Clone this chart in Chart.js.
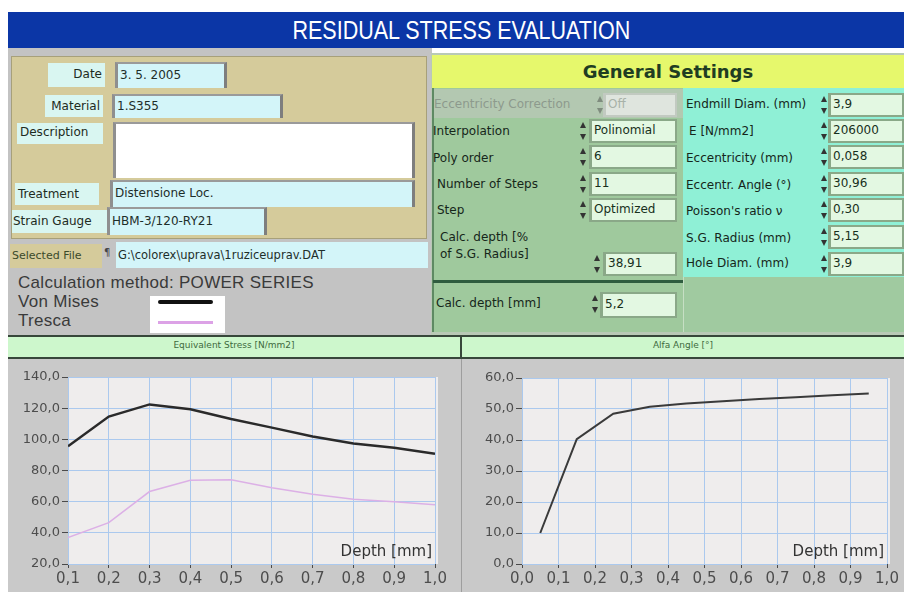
<!DOCTYPE html>
<html>
<head>
<meta charset="utf-8">
<script src="https://cdn.jsdelivr.net/npm/chart.js@4.4.1/dist/chart.umd.min.js"></script>
<style>
  body { margin: 0; width: 904px; height: 592px; background: #fff; overflow: hidden; position: relative; font-family: "DejaVu Sans", Verdana, sans-serif; }
  .a { position: absolute; box-sizing: border-box; }
  .lbl { position: absolute; box-sizing: border-box; background: #d9f6f1; font-size: 12px; color: #1d2b22; line-height: 22px; padding: 0 3px; white-space: nowrap; }
  .val { position: absolute; box-sizing: border-box; background: #d3f5f9; border-left: 3px solid #8f8f8f; border-top: 2px solid #9a9a9a; border-right: 3px solid #7e7e7e; font-size: 12px; color: #1e2e2a; padding-left: 2px; white-space: nowrap; overflow: hidden; }
  .txt { position: absolute; font-size: 12px; color: #16261a; white-space: nowrap; }
  .gv { position: absolute; box-sizing: border-box; height: 24px; background: #e3f8e2; border: 2px solid #8aa888; border-left-width: 3px; font-size: 12px; color: #18301c; line-height: 19px; padding-left: 2px; white-space: nowrap; }
  .sp { position: absolute; width: 7px; height: 22px; }
  .sp:before { content: ""; position: absolute; left: 0; top: 2px; border-left: 3px solid transparent; border-right: 3px solid transparent; border-bottom: 6px solid #333; }
  .sp:after { content: ""; position: absolute; left: 0; bottom: 2px; border-left: 3px solid transparent; border-right: 3px solid transparent; border-top: 6px solid #333; }
</style>
</head>
<body>

<!-- titolo -->
<div class="a" style="left:8px;top:12px;width:896px;height:36px;background:#0b36a6;color:#fff;font-family:'Liberation Sans',sans-serif;font-size:25px;text-align:center;line-height:36px;">
  <span style="display:inline-block;transform:scaleX(0.86);transform-origin:center;margin-left:10px;">RESIDUAL STRESS EVALUATION</span>
</div>

<!-- pannello sinistro -->
<div class="a" style="left:8px;top:48px;width:424px;height:287px;background:#c3c3c3;"></div>
<div class="a" style="left:11px;top:56px;width:416px;height:183px;background:#d5cb9b;border:1px solid #a7a07a;"></div>

<div class="lbl" style="left:48px;top:63px;width:57px;height:24px;text-align:right;">Date</div>
<div class="val" style="left:115px;top:62px;width:112px;height:26px;line-height:22px;">3. 5. 2005</div>
<div class="lbl" style="left:45px;top:95px;width:58px;height:22px;text-align:right;">Material</div>
<div class="val" style="left:112px;top:94px;width:171px;height:24px;line-height:20px;">1.S355</div>
<div class="lbl" style="left:17px;top:123px;width:86px;height:21px;line-height:19px;">Description</div>
<div class="val" style="left:113px;top:122px;width:302px;height:56px;background:#fff;"></div>
<div class="lbl" style="left:15px;top:183px;width:84px;height:22px;">Treatment</div>
<div class="val" style="left:110px;top:180px;width:305px;height:27px;line-height:23px;">Distensione Loc.</div>
<div class="lbl" style="left:12px;top:210px;width:95px;height:23px;padding:0 1px;">Strain Gauge</div>
<div class="val" style="left:107px;top:207px;width:160px;height:28px;line-height:24px;">HBM-3/120-RY21</div>

<div class="a" style="left:10px;top:244px;width:92px;height:24px;background:#d5cb9b;font-size:11px;line-height:24px;color:#3b4a2a;padding-left:2px;white-space:nowrap;">Selected File</div>
<div class="txt" style="left:104px;top:247px;font-size:10px;color:#444;">¶</div>
<div class="val" style="left:116px;top:242px;width:312px;height:26px;border:none;line-height:26px;font-size:11.5px;">G:\colorex\uprava\1ruziceuprav.DAT</div>

<div class="txt" style="left:18px;top:273px;font-family:'Liberation Sans',Arial,sans-serif;font-size:17px;color:#3a3a3a;letter-spacing:0.3px;">Calculation method: POWER SERIES</div>
<div class="txt" style="left:18px;top:292px;font-family:'Liberation Sans',Arial,sans-serif;font-size:17px;color:#3a3a3a;letter-spacing:0.3px;">Von Mises</div>
<div class="txt" style="left:18px;top:311px;font-family:'Liberation Sans',Arial,sans-serif;font-size:17px;color:#3a3a3a;letter-spacing:0.3px;">Tresca</div>
<div class="a" style="left:150px;top:296px;width:75px;height:37px;background:#fff;"></div>
<div class="a" style="left:158px;top:300px;width:55px;height:4px;background:#111;border-radius:2px;"></div>
<div class="a" style="left:158px;top:321px;width:55px;height:3px;background:#dca2e6;"></div>

<!-- General Settings -->
<div class="a" style="left:431px;top:53px;width:473px;height:282px;background:#b9c9b6;"></div>
<div class="a" style="left:432px;top:55px;width:472px;height:33px;background:#e6f86c;font-weight:bold;font-size:18px;color:#1f3d22;text-align:center;line-height:33px;">General Settings</div>
<div class="a" style="left:432px;top:88px;width:251px;height:244px;background:#9fc99d;border-left:2px solid #5e8a63;"></div>
<div class="a" style="left:434px;top:89px;width:249px;height:29px;background:#b3c8b1;"></div>
<div class="a" style="left:683px;top:88px;width:221px;height:189px;background:#8ff0d6;"></div>
<div class="a" style="left:683px;top:277px;width:221px;height:55px;background:#a0caa0;border-left:1px solid #c6dfc4;"></div>
<div class="a" style="left:433px;top:280px;width:250px;height:3px;background:#2f5c3f;"></div>

<div class="txt" style="left:434px;top:97px;color:#8d9a8d;">Eccentricity Correction</div>
<div class="sp" style="left:597px;top:94px;opacity:0.4;"></div>
<div class="gv" style="left:603px;top:93px;width:74px;background:#dfe5de;color:#a8b2a8;border-color:#c2cac1;">Off</div>

<div class="txt" style="left:433px;top:124px;">Interpolation</div>
<div class="sp" style="left:580px;top:120px;"></div>
<div class="gv" style="left:589px;top:119px;width:88px;">Polinomial</div>
<div class="txt" style="left:433px;top:151px;">Poly order</div>
<div class="sp" style="left:580px;top:146px;"></div>
<div class="gv" style="left:589px;top:145px;width:88px;">6</div>
<div class="txt" style="left:437px;top:177px;">Number of Steps</div>
<div class="sp" style="left:580px;top:173px;"></div>
<div class="gv" style="left:589px;top:172px;width:88px;">11</div>
<div class="txt" style="left:437px;top:203px;">Step</div>
<div class="sp" style="left:580px;top:199px;"></div>
<div class="gv" style="left:589px;top:198px;width:88px;">Optimized</div>
<div class="txt" style="left:440px;top:230px;">Calc. depth [%</div>
<div class="txt" style="left:440px;top:247px;">of S.G. Radius]</div>
<div class="sp" style="left:594px;top:253px;"></div>
<div class="gv" style="left:603px;top:252px;width:74px;">38,91</div>

<div class="txt" style="left:436px;top:296px;">Calc. depth [mm]</div>
<div class="sp" style="left:592px;top:293px;"></div>
<div class="gv" style="left:600px;top:292px;width:77px;height:26px;line-height:21px;">5,2</div>

<div class="txt" style="left:686px;top:97px;">Endmill Diam. (mm)</div>
<div class="sp" style="left:821px;top:94px;"></div>
<div class="gv" style="left:828px;top:93px;width:76px;">3,9</div>
<div class="txt" style="left:689px;top:124px;">E [N/mm2]</div>
<div class="sp" style="left:821px;top:120px;"></div>
<div class="gv" style="left:828px;top:119px;width:76px;">206000</div>
<div class="txt" style="left:686px;top:151px;">Eccentricity (mm)</div>
<div class="sp" style="left:821px;top:146px;"></div>
<div class="gv" style="left:828px;top:145px;width:76px;">0,058</div>
<div class="txt" style="left:686px;top:178px;">Eccentr. Angle (°)</div>
<div class="sp" style="left:821px;top:173px;"></div>
<div class="gv" style="left:828px;top:172px;width:76px;">30,96</div>
<div class="txt" style="left:686px;top:204px;">Poisson's ratio ν</div>
<div class="sp" style="left:821px;top:199px;"></div>
<div class="gv" style="left:828px;top:198px;width:76px;">0,30</div>
<div class="txt" style="left:686px;top:231px;">S.G. Radius (mm)</div>
<div class="sp" style="left:821px;top:226px;"></div>
<div class="gv" style="left:828px;top:225px;width:76px;">5,15</div>
<div class="txt" style="left:686px;top:256px;">Hole Diam. (mm)</div>
<div class="sp" style="left:821px;top:253px;"></div>
<div class="gv" style="left:828px;top:252px;width:76px;">3,9</div>

<!-- intestazioni grafici -->
<div class="a" style="left:8px;top:335px;width:896px;height:24px;background:#cdf7cc;border-top:2px solid #37473a;border-bottom:2px solid #37473a;"></div>
<div class="a" style="left:460px;top:335px;width:2px;height:24px;background:#37473a;"></div>
<div class="txt" style="left:8px;top:340px;width:452px;text-align:center;font-size:9px;color:#3d6a3d;">Equivalent Stress [N/mm2]</div>
<div class="txt" style="left:462px;top:340px;width:442px;text-align:center;font-size:9px;color:#3d6a3d;">Alfa Angle [°]</div>

<div class="a" style="left:8px;top:359px;width:896px;height:233px;background:#c9c9c9;"></div>
<div class="a" style="left:461px;top:359px;width:1px;height:233px;background:#9e9e9e;"></div>

<canvas id="stressChart" class="a" width="453" height="233" style="left:8px;top:359px;"></canvas>
<canvas id="alfaChart" class="a" width="441" height="233" style="left:463px;top:359px;"></canvas>

<script>
// dati
var stressDepth = [0.1, 0.2, 0.3, 0.4, 0.5, 0.6, 0.7, 0.8, 0.9, 1.0];
var vonMises = [95.5, 114.6, 122.4, 119.3, 113.0, 107.5, 101.8, 97.3, 94.6, 90.8];
var tresca = [37.0, 46.5, 66.5, 73.8, 74.0, 69.0, 64.8, 61.6, 59.9, 58.0];
var stressXTicks = [0.1, 0.2, 0.3, 0.4, 0.5, 0.6, 0.7, 0.8, 0.9, 1.0];
var stressYTicks = [20, 40, 60, 80, 100, 120, 140];

var alfaDepth = [0.05, 0.15, 0.25, 0.35, 0.45, 0.55, 0.65, 0.75, 0.85, 0.95];
var alfaAngle = [10.0, 40.3, 48.5, 50.7, 51.8, 52.5, 53.2, 53.8, 54.4, 55.0];
var alfaXTicks = [0.0, 0.1, 0.2, 0.3, 0.4, 0.5, 0.6, 0.7, 0.8, 0.9, 1.0];
var alfaYTicks = [0, 10, 20, 30, 40, 50, 60];

function virgola(v) {
    return Number(v).toFixed(1).replace('.', ',');
}

function punti(xs, ys) {
    return xs.map(function (x, i) { return { x: x, y: ys[i] }; });
}

// sfondo area del grafico e scritta Depth [mm]
var sfondoPlugin = {
    id: 'sfondo',
    beforeDraw: function (chart) {
        var a = chart.chartArea;
        var ctx = chart.ctx;
        ctx.save();
        ctx.fillStyle = '#efeded';
        ctx.fillRect(a.left, a.top, a.right - a.left + 3, a.bottom - a.top);
        ctx.restore();
    },
    afterDraw: function (chart) {
        var a = chart.chartArea;
        var ctx = chart.ctx;
        ctx.save();
        ctx.font = '15px "DejaVu Sans"';
        ctx.fillStyle = '#333';
        ctx.textAlign = 'right';
        ctx.textBaseline = 'middle';
        ctx.fillText('Depth [mm]', a.right - 3, a.bottom - 12);
        ctx.restore();
    }
};

function opzioni(xTicks, yTicks, yWidth, padRight, padTop) {
    return {
        responsive: false,
        animation: false,
        layout: { padding: { top: padTop, right: padRight, left: 0, bottom: 0 } },
        plugins: { legend: { display: false }, tooltip: { enabled: false } },
        scales: {
            x: {
                type: 'linear',
                min: xTicks[0],
                max: xTicks[xTicks.length - 1],
                afterBuildTicks: function (axis) {
                    axis.ticks = xTicks.map(function (v) { return { value: v }; });
                },
                afterFit: function (axis) { axis.height = 28; },
                border: { display: false },
                grid: { color: '#abc9ee', tickColor: '#4a4a4a', tickLength: 4 },
                ticks: {
                    autoSkip: false, maxRotation: 0, padding: 2,
                    color: '#4d4d4d',
                    font: { size: 15, family: 'DejaVu Sans' },
                    callback: virgola
                }
            },
            y: {
                min: yTicks[0],
                max: yTicks[yTicks.length - 1],
                afterBuildTicks: function (axis) {
                    axis.ticks = yTicks.map(function (v) { return { value: v }; });
                },
                afterFit: function (axis) { axis.width = yWidth; },
                border: { display: false },
                grid: { color: '#abc9ee', tickColor: '#4a4a4a', tickLength: 6 },
                ticks: {
                    padding: 2,
                    color: '#4d4d4d',
                    font: { size: 13, family: 'DejaVu Sans' },
                    callback: virgola
                }
            }
        }
    };
}

new Chart(document.getElementById('stressChart'), {
    type: 'scatter',
    data: {
        datasets: [
            {
                label: 'Tresca',
                data: punti(stressDepth, tresca),
                showLine: true,
                borderColor: '#dcb0e6',
                borderWidth: 1.5,
                pointRadius: 0
            },
            {
                label: 'Von Mises',
                data: punti(stressDepth, vonMises),
                showLine: true,
                borderColor: '#2a2a2a',
                borderWidth: 2.5,
                pointRadius: 0
            }
        ]
    },
    plugins: [sfondoPlugin],
    options: opzioni(stressXTicks, stressYTicks, 60, 26, 18)
});

new Chart(document.getElementById('alfaChart'), {
    type: 'scatter',
    data: {
        datasets: [{
            label: 'Alfa Angle',
            data: punti(alfaDepth, alfaAngle),
            showLine: true,
            borderColor: '#3a3a3a',
            borderWidth: 2,
            pointRadius: 0
        }]
    },
    plugins: [sfondoPlugin],
    options: opzioni(alfaXTicks, alfaYTicks, 59, 17, 19)
});
</script>
</body>
</html>
